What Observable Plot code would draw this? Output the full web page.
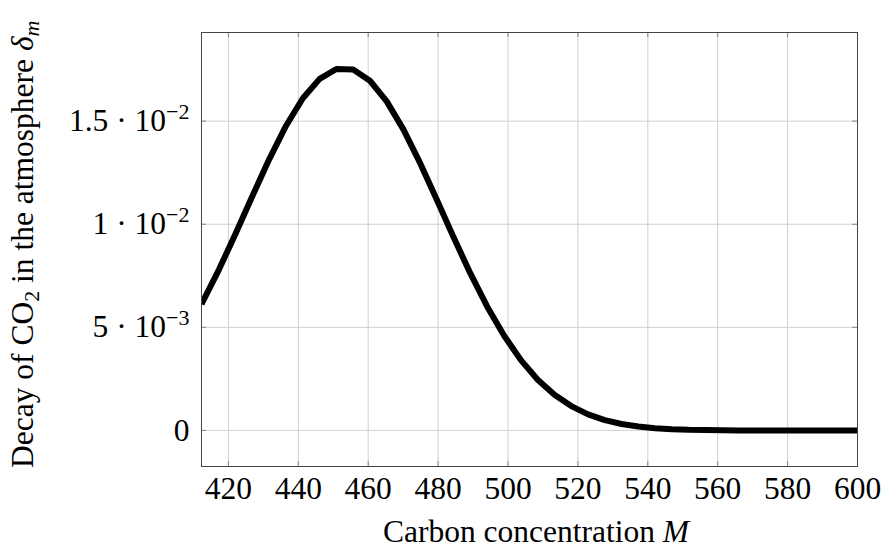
<!DOCTYPE html>
<html><head><meta charset="utf-8">
<script src="https://cdn.jsdelivr.net/npm/d3@7"></script>
<script src="https://cdn.jsdelivr.net/npm/@observablehq/plot@0.6"></script>
<style>
html,body{margin:0;padding:0;background:#fff;}
</style></head><body><div id="chart"></div>
<script>
// Carbon concentration M (x) and decay of CO2 delta_m (y)
const concentration = [412.3, 417.3, 422.1, 426.9, 431.7, 436.5, 441.3, 446.1, 450.9, 455.7,
  460.5, 465.3, 470.1, 474.9, 479.7, 484.5, 489.3, 494.1, 498.9, 503.7,
  508.5, 513.3, 518.1, 522.9, 527.7, 532.5, 537.3, 542.1, 546.9, 551.7,
  556.5, 561.3, 566.1, 570.9, 575.7, 580.5, 585.3, 590.1, 594.9, 600];
const decay = [0.00612, 0.00780, 0.00956, 0.01138, 0.01316, 0.01478, 0.01611, 0.01705, 0.01753, 0.01750,
  0.01696, 0.01596, 0.01459, 0.01295, 0.01116, 0.00934, 0.00759, 0.00599, 0.00459, 0.00341,
  0.00246, 0.00173, 0.00118, 0.00078, 0.00050, 0.00031, 0.00019, 0.00011, 0.00006, 0.00003,
  0.00002, 0.00001, 0, 0, 0, 0, 0, 0, 0, 0];

const xTicks = [420, 440, 460, 480, 500, 520, 540, 560, 580, 600];
const yTicks = [0, 0.005, 0.01, 0.015];
const yTickMantissa = ["0", "5", "1", "1.5"];
const yTickExponent = ["", "\u22123", "\u22122", "\u22122"];
const xDomain = [412.3, 600];
const yDomain = [-0.00175, 0.0193];

const xTitle = "Carbon concentration ";
const xTitleVar = "M";
const yTitleParts = ["Decay of CO", "2", " in the atmosphere ", "\u03b4", "m"];

const data = concentration.map((x, i) => ({x, y: decay[i]}));

const W = 883, H = 554;
const mL = 201, mR = 26, mT = 32, mB = 88;
const innerW = W - mL - mR, innerH = H - mT - mB;
const font = "'Liberation Serif', 'DejaVu Serif', serif";
const fs = 31.5, fsSmall = 22;

const plot = Plot.plot({
  width: W, height: H,
  marginLeft: mL, marginRight: mR, marginTop: mT, marginBottom: mB,
  style: {fontFamily: font, fontSize: fs + "px", color: "#000", background: "#fff", overflow: "visible"},
  x: {domain: xDomain},
  y: {domain: yDomain},
  marks: [
    Plot.gridX(xTicks, {stroke: "#d0d0d0", strokeOpacity: 1, strokeWidth: 1}),
    Plot.gridY(yTicks, {stroke: "#d0d0d0", strokeOpacity: 1, strokeWidth: 1}),
    Plot.tickX(xTicks, {x: d => d, stroke: "#888", insetTop: innerH - 5}),
    Plot.tickX(xTicks, {x: d => d, stroke: "#888", insetBottom: innerH - 5}),
    Plot.tickY(yTicks, {y: d => d, stroke: "#888", insetRight: innerW - 5}),
    Plot.tickY(yTicks, {y: d => d, stroke: "#888", insetLeft: innerW - 5}),
    Plot.line(data, {x: "x", y: "y", stroke: "#000", strokeWidth: 6, strokeLinejoin: "miter", strokeLinecap: "butt", clip: true}),
    Plot.frame({stroke: "#444", strokeWidth: 1}),
    Plot.axisX(xTicks, {tickSize: 0, tickPadding: 10, label: null, fontSize: fs, tickFormat: d => String(d)}),
    Plot.axisY(yTicks, {tickSize: 0, tickPadding: 12, label: null, fontSize: fs,
      tickFormat: d => { const i = yTicks.indexOf(d); return yTickMantissa[i] + (yTickExponent[i] ? " \u00b7 10" : ""); }})
  ]
});

document.getElementById("chart").appendChild(plot);
const svg = d3.select(plot);

// superscript exponents on y tick labels
svg.selectAll('g[aria-label="y-axis tick label"] text').each(function(d, k) {
  const t = d3.select(this);
  const i = yTicks.indexOf(yTicks[k]);
  if (yTickExponent[i]) {
    t.append("tspan").attr("font-size", fsSmall + "px").attr("dy", "-0.55em").text(yTickExponent[i]);
  }
});

// x axis title
const xt = svg.append("text")
  .attr("x", 536).attr("y", 542)
  .attr("text-anchor", "middle")
  .attr("font-family", font).attr("font-size", fs).attr("fill", "#000");
xt.append("tspan").text(xTitle);
xt.append("tspan").attr("font-style", "italic").text(xTitleVar);

// y axis title
const yt = svg.append("text")
  .attr("transform", "translate(33,468) rotate(-90)")
  .attr("text-anchor", "start")
  .attr("font-family", font).attr("font-size", fs).attr("fill", "#000");
yt.append("tspan").text(yTitleParts[0]);
yt.append("tspan").attr("font-size", fsSmall).attr("dy", 6).text(yTitleParts[1]);
yt.append("tspan").attr("dy", -6).text(yTitleParts[2]);
yt.append("tspan").attr("font-style", "italic").text(yTitleParts[3]);
yt.append("tspan").attr("font-style", "italic").attr("font-size", fsSmall).attr("dy", 6).text(yTitleParts[4]);
</script>
</body></html>
